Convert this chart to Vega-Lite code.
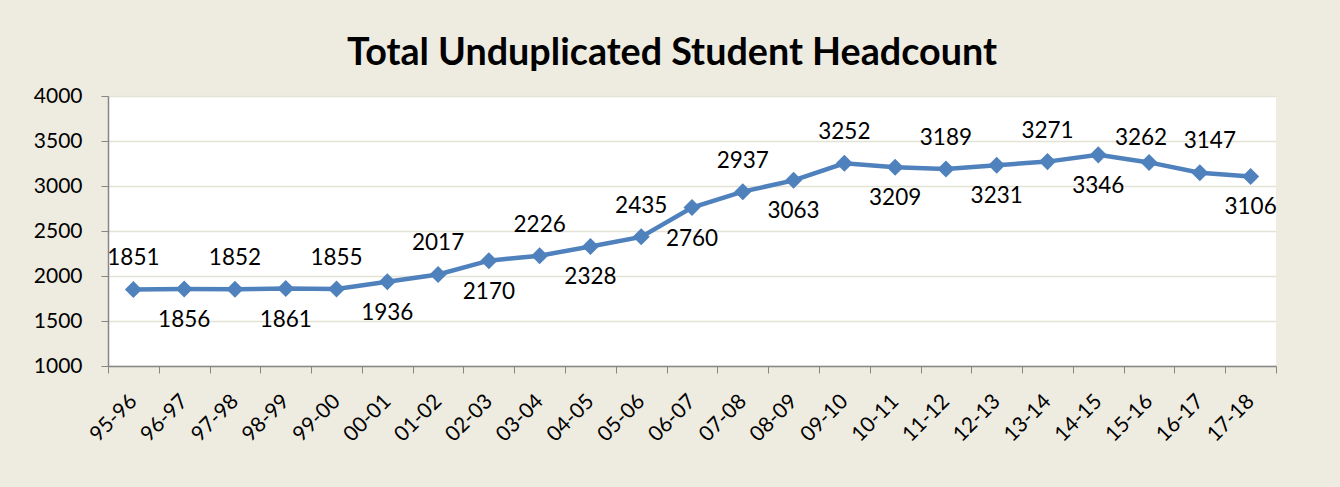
{
  "$schema": "https://vega.github.io/schema/vega-lite/v6.json",
  "width": 1168,
  "height": 270,
  "autosize": {"type": "none"},
  "padding": {"left": 108, "top": 96, "right": 64, "bottom": 121},
  "background": "#EEECE1",
  "title": {
    "text": "Total Unduplicated Student Headcount",
    "font": "Lato",
    "fontSize": 37.7,
    "fontWeight": "bold",
    "color": "#000000",
    "anchor": "middle",
    "frame": "group",
    "dx": -20,
    "offset": 12
  },
  "config": {
    "view": {"stroke": null, "fill": "#FFFFFF"},
    "font": "Lato"
  },
  "data": {
    "values": [
      {"year": "95-96", "count": 1851},
      {"year": "96-97", "count": 1856},
      {"year": "97-98", "count": 1852},
      {"year": "98-99", "count": 1861},
      {"year": "99-00", "count": 1855},
      {"year": "00-01", "count": 1936},
      {"year": "01-02", "count": 2017},
      {"year": "02-03", "count": 2170},
      {"year": "03-04", "count": 2226},
      {"year": "04-05", "count": 2328},
      {"year": "05-06", "count": 2435},
      {"year": "06-07", "count": 2760},
      {"year": "07-08", "count": 2937},
      {"year": "08-09", "count": 3063},
      {"year": "09-10", "count": 3252},
      {"year": "10-11", "count": 3209},
      {"year": "11-12", "count": 3189},
      {"year": "12-13", "count": 3231},
      {"year": "13-14", "count": 3271},
      {"year": "14-15", "count": 3346},
      {"year": "15-16", "count": 3262},
      {"year": "16-17", "count": 3147},
      {"year": "17-18", "count": 3106}
    ]
  },
  "encoding": {
    "x": {
      "field": "year",
      "type": "nominal",
      "sort": null,
      "bandPosition": 0.5,
      "scale": {"type": "band", "paddingInner": 0, "paddingOuter": 0},
      "axis": {
        "title": null,
        "labelAngle": -45,
        "labelAlign": "right",
        "labelBaseline": "middle",
        "labelFont": "Lato",
        "labelFontSize": 21,
        "labelColor": "#000000",
        "labelPadding": 25,
        "tickSize": 7,
        "tickBand": "extent",
        "tickColor": "#868686",
        "domainColor": "#868686",
        "domainWidth": 1.5,
        "grid": false
      }
    },
    "y": {
      "field": "count",
      "type": "quantitative",
      "scale": {"domain": [1000, 4000], "nice": false, "zero": false},
      "axis": {
        "title": null,
        "format": "d",
        "values": [1000, 1500, 2000, 2500, 3000, 3500, 4000],
        "labelFont": "Lato",
        "labelFontSize": 21,
        "labelColor": "#000000",
        "labelPadding": 19,
        "tickSize": 7,
        "tickColor": "#868686",
        "domainColor": "#868686",
        "domainWidth": 1.5,
        "grid": true,
        "gridColor": "#E4E1D5",
        "gridWidth": 1.5
      }
    }
  },
  "layer": [
    {
      "mark": {"type": "line", "color": "#4F81BD", "strokeWidth": 4.5}
    },
    {
      "mark": {"type": "point", "shape": "diamond", "size": 290, "filled": true, "color": "#4F81BD", "opacity": 1}
    },
    {
      "transform": [{"filter": {"field": "year", "oneOf": ["95-96", "97-98", "99-00", "01-02", "03-04", "05-06", "07-08", "09-10", "11-12", "13-14"]}}],
      "mark": {"type": "text", "font": "Lato", "fontSize": 22.5, "color": "#000000", "baseline": "middle", "align": "center", "dy": -31},
      "encoding": {"text": {"field": "count", "type": "quantitative", "format": "d"}}
    },
    {
      "transform": [{"filter": {"field": "year", "equal": "15-16"}}],
      "mark": {"type": "text", "font": "Lato", "fontSize": 22.5, "color": "#000000", "baseline": "middle", "align": "center", "dy": -24, "dx": -8},
      "encoding": {"text": {"field": "count", "type": "quantitative", "format": "d"}}
    },
    {
      "transform": [{"filter": {"field": "year", "equal": "16-17"}}],
      "mark": {"type": "text", "font": "Lato", "fontSize": 22.5, "color": "#000000", "baseline": "middle", "align": "center", "dy": -32, "dx": 10},
      "encoding": {"text": {"field": "count", "type": "quantitative", "format": "d"}}
    },
    {
      "transform": [{"filter": {"field": "year", "oneOf": ["96-97", "98-99", "00-01", "02-03", "04-05", "06-07", "08-09", "10-11", "12-13", "14-15", "17-18"]}}],
      "mark": {"type": "text", "font": "Lato", "fontSize": 22.5, "color": "#000000", "baseline": "middle", "align": "center", "dy": 31},
      "encoding": {"text": {"field": "count", "type": "quantitative", "format": "d"}}
    }
  ]
}
